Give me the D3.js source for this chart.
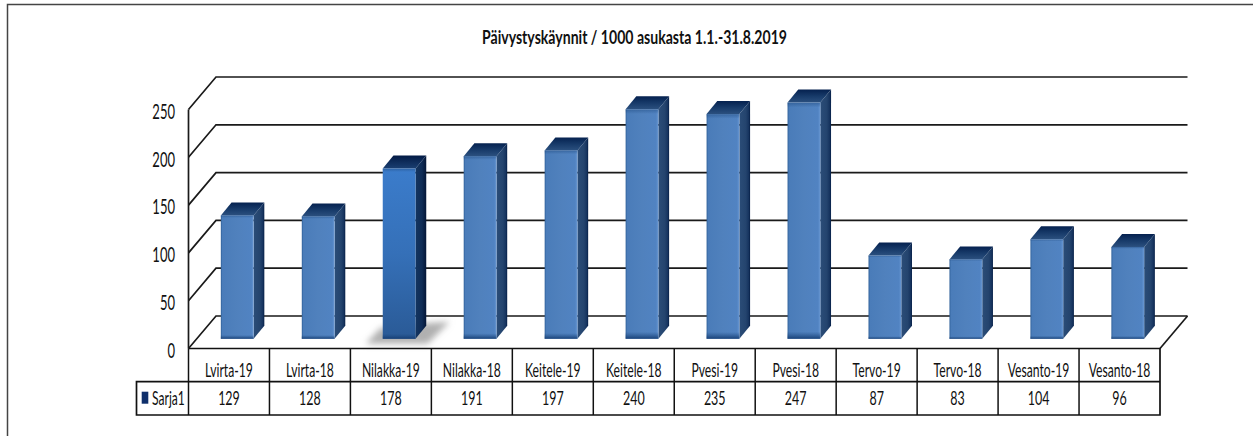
<!DOCTYPE html>
<html><head><meta charset="utf-8">
<style>html,body{margin:0;padding:0;background:#fff}svg{display:block}
text{font-family:Lato,"Liberation Sans",sans-serif;fill:#111}</style>
<script src="https://cdn.jsdelivr.net/npm/d3@7"></script></head><body><script>
const categories=["Lvirta-19","Lvirta-18","Nilakka-19","Nilakka-18","Keitele-19","Keitele-18","Pvesi-19","Pvesi-18","Tervo-19","Tervo-18","Vesanto-19","Vesanto-18"];
const values=[129,128,178,191,197,240,235,247,87,83,104,96];
const yTicks=[0,50,100,150,200,250];
const seriesName="Sarja1";
const titleText="Päivystyskäynnit / 1000 asukasta 1.1.-31.8.2019";
const selected="Nilakka-19";

const W=1253,H=436;
const svg=d3.select("body").append("svg").attr("width",W).attr("height",H);
const x=d3.scaleBand().domain(categories).range([188.5,1160]);
const y=d3.scaleLinear().domain([0,250]).range([348.5,109.5]);
const wallDx=27.5,wallDy=-32.5, barInset=0.3, barW=32.8, sideDx=10.7, sideDy=-13;

const defs=svg.append("defs");
function grad(id,dir,stops){
  const g=defs.append("linearGradient").attr("id",id);
  if(dir==="v")g.attr("x1",0).attr("y1",0).attr("x2",0).attr("y2",1);
  else g.attr("x1",0).attr("y1",0).attr("x2",1).attr("y2",0);
  stops.forEach(s=>g.append("stop").attr("offset",s[0]).attr("stop-color",s[1]).attr("stop-opacity",s[2]===undefined?1:s[2]));
}
grad("front","h",[[0,"#2f6099"],[.05,"#4a7cb9"],[.5,"#5081bd"],[.93,"#5183c2"],[1,"#6b99d3"]]);
grad("frontB","v",[[0,"#1f4a80",.5],[.02,"#1f4a80",0],[.97,"#1f4a80",0],[1,"#123a70",.9]]);
grad("frontS","v",[[0,"#3b7ccb"],[.5,"#3570b8"],[1,"#2a5a96"]]);
grad("side","h",[[0,"#2b4d78"],[.6,"#24446e"],[.85,"#173560"],[1,"#061f47"]]);
grad("sideS","h",[[0,"#143560"],[.6,"#0f2c56"],[1,"#041637"]]);
grad("top","v",[[0,"#05214f"],[.5,"#173a69"],[1,"#2b507f"]]);
grad("topS","v",[[0,"#031b45"],[1,"#1a3f72"]]);
defs.append("filter").attr("id","blur").attr("x","-30%").attr("y","-60%").attr("width","160%").attr("height","220%")
  .append("feGaussianBlur").attr("stdDeviation",3.2);

// outer frame
svg.append("path").attr("d",`M7.5,${H}V4.5H${W}`).attr("fill","none").attr("stroke","#444").attr("stroke-width",1.5);

// title
svg.append("text").attr("x",634.5).attr("y",44).attr("text-anchor","middle").attr("font-size",19.5).attr("font-weight",700)
  .attr("textLength",305).attr("lengthAdjust","spacingAndGlyphs").text(titleText);

// walls and gridlines
const x0=x.range()[0],x1=x.range()[1];
const grid=svg.append("g").attr("fill","none").attr("stroke","#1a1a1a").attr("stroke-width",1.7);
grid.selectAll("path.g").data(yTicks).join("path").attr("class","g")
  .attr("d",t=>`M${x0},${y(t)}L${x0+wallDx},${y(t)+wallDy}H${x1+wallDx}`);
grid.append("path").attr("d",`M${x0},${y(250)}V${y(0)}`);
grid.append("path").attr("d",`M${x1},${y(0)}L${x1+wallDx},${y(0)+wallDy}`);

// bars
const baseY=y(0)+wallDy*barInset;
const bars=svg.append("g").selectAll("g").data(categories.map((c,i)=>({c,v:values[i]}))).join("g");
const bx=d=>x(d.c)+x.bandwidth()/2-barW/2+wallDx*barInset;
const by=d=>baseY-(y(0)-y(d.v));
bars.filter(d=>d.c===selected).append("path").attr("filter","url(#blur)").attr("fill","#b0b0b0")
  .attr("d",d=>{const l=bx(d),b=baseY;return `M${l-17},${b+5}L${l-2},${b-11}H${l+barW}V${b-15}L${l+barW+34},${b-17}L${l+barW+12},${b+5}Z`});
bars.append("path").attr("fill",d=>d.c===selected?"url(#sideS)":"url(#side)")
  .attr("d",d=>{const r=bx(d)+barW,t=by(d);return `M${r},${t}L${r+sideDx},${t+sideDy}V${baseY+sideDy}L${r},${baseY}Z`});
bars.append("path").attr("fill",d=>d.c===selected?"url(#topS)":"url(#top)")
  .attr("d",d=>{const l=bx(d),t=by(d);return `M${l},${t}L${l+sideDx},${t+sideDy}H${l+barW+sideDx}L${l+barW},${t}Z`});
bars.append("rect").attr("x",bx).attr("y",by).attr("width",barW).attr("height",d=>baseY-by(d))
  .attr("fill",d=>d.c===selected?"url(#frontS)":"url(#front)");
bars.append("rect").attr("x",bx).attr("y",by).attr("width",barW).attr("height",d=>baseY-by(d))
  .attr("fill","url(#frontB)");

// narrow text: horizontally squeezed labels
function squeezed(sel,fx,fy,sx,size,anchor){
  return sel.attr("transform",(d,i)=>`translate(${fx(d,i)},${fy(d,i)}) scale(${sx},1)`)
    .attr("dy","0.35em").attr("text-anchor",anchor).attr("font-size",size);
}

// y tick labels
squeezed(svg.append("g").selectAll("text").data(yTicks).join("text"),()=>175,t=>y(t)+2,.62,21,"end").text(t=>t);

// data table
const r1=381.7,r2=415,tl=136.5;
const tbl=svg.append("g").attr("fill","none").attr("stroke","#111").attr("stroke-width",1.5);
tbl.append("path").attr("d",`M${x0},${y(0)}H${x1}V${r2}H${tl}V${r1}H${x1}`).attr("stroke-width",1.7);
tbl.selectAll("path.v").data(categories).join("path").attr("class","v")
  .attr("d",c=>`M${x(c)},${y(0)}V${r2}`);
svg.append("rect").attr("x",141.7).attr("y",391.7).attr("width",6.6).attr("height",12).attr("fill","#0f2f6b");
squeezed(svg.append("text"),()=>152,()=>398.5,.62,19.5,"start").text(seriesName);
squeezed(svg.append("g").selectAll("text").data(categories).join("text"),c=>x(c)+x.bandwidth()/2,()=>370.5,.64,19,"middle").text(c=>c);
squeezed(svg.append("g").selectAll("text").data(values).join("text"),(v,i)=>x(categories[i])+x.bandwidth()/2,()=>398.5,.64,19.5,"middle").text(v=>v);
</script></body></html>
